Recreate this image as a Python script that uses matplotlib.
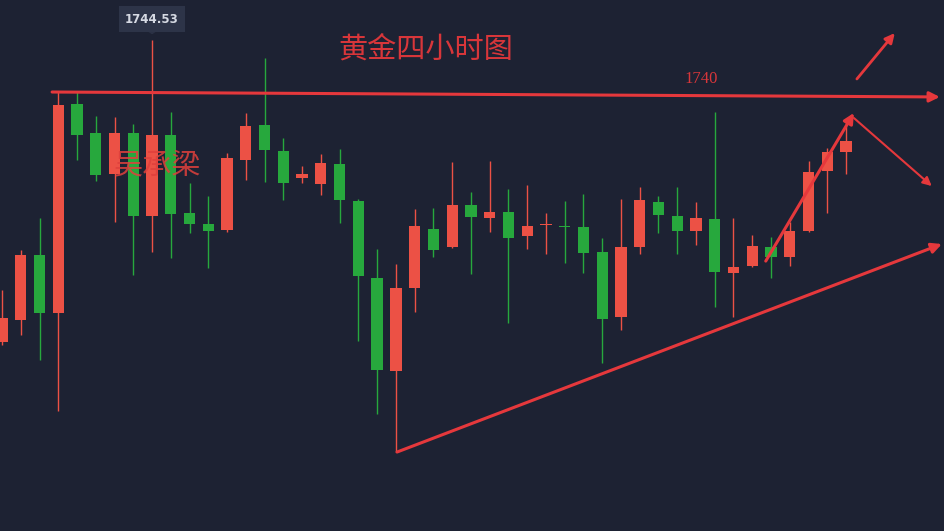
import numpy as np
import matplotlib
matplotlib.use("Agg")
from matplotlib import pyplot as plt

# 4h gold candles (red = up, green = down)
opens = [1718.86, 1720.73, 1726.26, 1721.33, 1739.09, 1736.63, 1733.14, 1736.63, 1729.57, 1736.46,
         1729.83, 1728.89, 1728.38, 1734.33, 1737.31, 1735.10, 1732.80, 1732.29, 1733.99, 1730.85,
         1724.30, 1716.40, 1723.45, 1728.47, 1726.94, 1730.51, 1729.40, 1729.91, 1727.87, 1728.81,
         1728.72, 1728.64, 1726.51, 1720.99, 1726.94, 1730.76, 1729.57, 1728.30, 1729.32, 1724.73,
         1725.32, 1726.94, 1726.09, 1728.30, 1733.40, 1735.01]
highs = [1723.28, 1726.68, 1729.40, 1740.20, 1740.20, 1738.07, 1737.99, 1737.39, 1744.53, 1738.41,
         1732.38, 1731.27, 1734.93, 1738.33, 1743.00, 1736.20, 1733.82, 1734.84, 1735.27, 1731.02,
         1726.77, 1725.49, 1730.17, 1730.25, 1734.16, 1731.61, 1734.25, 1731.87, 1732.21, 1729.83,
         1730.85, 1731.44, 1727.70, 1731.02, 1732.04, 1731.27, 1732.04, 1730.76, 1738.41, 1729.40,
         1727.96, 1727.79, 1729.06, 1734.25, 1735.35, 1737.56]
lows = [1718.61, 1719.46, 1717.33, 1712.99, 1734.33, 1732.55, 1729.06, 1724.56, 1726.51, 1726.00,
        1728.13, 1725.15, 1728.21, 1732.63, 1732.46, 1730.93, 1732.38, 1731.36, 1728.98, 1718.95,
        1712.74, 1709.51, 1721.41, 1726.09, 1726.85, 1724.64, 1728.21, 1720.48, 1726.77, 1726.34,
        1725.58, 1724.73, 1717.08, 1719.88, 1726.34, 1728.13, 1726.34, 1727.11, 1721.84, 1720.99,
        1725.24, 1724.30, 1725.32, 1728.20, 1729.83, 1733.14]
closes = [1720.90, 1726.26, 1721.33, 1739.01, 1736.46, 1733.06, 1736.63, 1729.57, 1736.46, 1729.74,
          1728.89, 1728.30, 1734.50, 1737.22, 1735.18, 1732.38, 1733.14, 1734.08, 1730.93, 1724.47,
          1716.48, 1723.45, 1728.72, 1726.68, 1730.51, 1729.49, 1729.91, 1727.70, 1728.72, 1728.90,
          1728.64, 1726.43, 1720.82, 1726.94, 1730.93, 1729.66, 1728.30, 1729.40, 1724.81, 1725.24,
          1727.02, 1726.09, 1728.30, 1733.31, 1735.01, 1735.95]

max_label = "1744.53"
max_idx = 8
title_text = "黄金四小时图"
author_text = "吴承梁"
level_text = "1740"

# hand-drawn marks: (candle index, price) start / end
resist_line = [(2.67, 1740.11), (50.0, 1739.69)]
support_line = [(21.06, 1709.51), (50.11, 1727.19)]
up_arrow = [(40.72, 1725.74), (45.42, 1738.33)]
down_arrow = [(45.42, 1737.90), (49.57, 1732.12)]
break_arrow = [(45.58, 1741.22), (47.60, 1745.12)]

BG = "#1d2233"
UP = "#ec5145"
DOWN = "#27a83d"
MARK = "#e5383c"

fig = plt.figure(figsize=(9.44, 5.31), dpi=100, facecolor=BG)
ax = fig.add_axes([0, 0, 1, 1])
ax.set_facecolor(BG)

x = np.arange(len(opens))
o = np.array(opens)
c = np.array(closes)
colors = [UP if cc >= oo else DOWN for oo, cc in zip(o, c)]
ax.vlines(x, lows, highs, colors=colors, linewidth=1.0, zorder=2)
bottom = np.minimum(o, c)
height = np.maximum(np.abs(c - o), 0.12)
ax.bar(x, height, bottom=bottom, width=0.6, color=colors, linewidth=0, zorder=3)

def arrow(seg, lw, ms):
    ax.annotate("", xy=seg[1], xytext=seg[0],
                arrowprops=dict(arrowstyle="-|>", color=MARK, lw=lw, mutation_scale=ms,
                                shrinkA=0, shrinkB=0), zorder=5)

arrow(resist_line, 2.2, 15)
arrow(support_line, 2.2, 15)
arrow(up_arrow, 2.2, 15)
arrow(down_arrow, 1.5, 13)
arrow(break_arrow, 2.0, 14)

cjk = ["Noto Sans CJK SC", "DejaVu Sans"]
ax.text(22.6, 1743.75, title_text, color="#d8363a", fontsize=21, family=cjk,
        ha="center", va="center", zorder=6)
ax.text(8.3, 1733.9, author_text, color="#e0403c", fontsize=21, family=cjk,
        ha="center", va="center", alpha=0.85, zorder=6)
ax.text(37.3, 1741.25, level_text, color="#d8363a", fontsize=12, family="Liberation Serif",
        ha="center", va="center", zorder=6)

# max price tooltip
ax.annotate(max_label, xy=(max_idx, highs[max_idx] + 0.5), xytext=(max_idx, 1746.3),
            ha="center", va="center", color="#d6dae3", fontsize=8.5, fontweight="bold",
            bbox=dict(boxstyle="square,pad=0.55", fc="#2d3448", ec="none"),
            arrowprops=dict(arrowstyle="wedge,tail_width=0.6", fc="#2d3448", ec="none",
                            shrinkA=0, shrinkB=0), zorder=6)

ax.set_xlim(-0.107, 50.224)
ax.set_ylim(1702.80, 1747.93)
ax.axis("off")

fig.savefig("out.png", dpi=100, facecolor=BG)
